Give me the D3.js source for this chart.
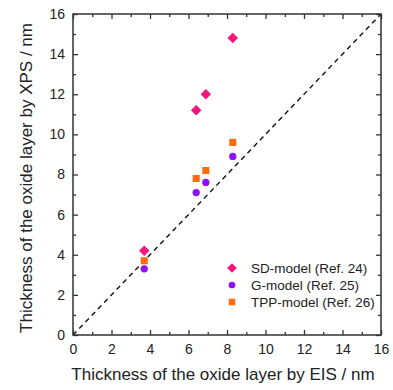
<!DOCTYPE html>
<html><head><meta charset="utf-8">
<script src="https://cdn.jsdelivr.net/npm/d3@7"></script>
<style>body{margin:0;background:#fff}svg{display:block}text{font-family:"Liberation Sans",Arial,sans-serif;fill:#222}</style>
</head><body>
<script>
const eis = [3.7, 6.4, 6.9, 8.3];
const sdModel = [4.2, 11.2, 12.0, 14.8];
const gModel = [3.3, 7.1, 7.6, 8.9];
const tppModel = [3.7, 7.8, 8.2, 9.6];
const seriesNames = ["SD-model (Ref. 24)", "G-model (Ref. 25)", "TPP-model (Ref. 26)"];
const tickValues = [0, 2, 4, 6, 8, 10, 12, 14, 16];

const W = 393, H = 390;
const m = {l: 73, r: 12, t: 14, b: 55};
const svg = d3.select("body").append("svg").attr("width", W).attr("height", H);
const x = d3.scaleLinear().domain([0, 16]).range([m.l, W - m.r]);
const y = d3.scaleLinear().domain([0, 16]).range([H - m.b, m.t]);

const series = [
  {name: seriesNames[0], vals: sdModel, color: "#f5157e", sym: d3.symbolDiamond2, size: 70},
  {name: seriesNames[1], vals: gModel, color: "#8f10ff", sym: d3.symbolCircle, size: 42},
  {name: seriesNames[2], vals: tppModel, color: "#ff6a0d", sym: d3.symbolSquare, size: 50}
];

// dashed identity line
svg.append("line").attr("x1", x(0)).attr("y1", y(0)).attr("x2", x(16)).attr("y2", y(16))
  .attr("stroke", "#111").attr("stroke-width", 1.4).attr("stroke-dasharray", "5,4");

const minor = d3.range(0, 17, 1).filter(v => v % 2);
const tickCol = "#333";
svg.append("g").attr("transform", `translate(0,${y(0)})`)
  .call(d3.axisBottom(x).tickValues(tickValues).tickSize(-5).tickPadding(9));
svg.append("g").attr("transform", `translate(0,${y(0)})`)
  .call(d3.axisBottom(x).tickValues(minor).tickSize(-3).tickFormat(""));
svg.append("g").attr("transform", `translate(0,${y(16)})`)
  .call(d3.axisTop(x).tickValues(tickValues).tickSize(-5).tickFormat(""));
svg.append("g").attr("transform", `translate(0,${y(16)})`)
  .call(d3.axisTop(x).tickValues(minor).tickSize(-3).tickFormat(""));
svg.append("g").attr("transform", `translate(${x(0)},0)`)
  .call(d3.axisLeft(y).tickValues(tickValues).tickSize(-5).tickPadding(8));
svg.append("g").attr("transform", `translate(${x(0)},0)`)
  .call(d3.axisLeft(y).tickValues(minor).tickSize(-3).tickFormat(""));
svg.append("g").attr("transform", `translate(${x(16)},0)`)
  .call(d3.axisRight(y).tickValues(tickValues).tickSize(-5).tickFormat(""));
svg.append("g").attr("transform", `translate(${x(16)},0)`)
  .call(d3.axisRight(y).tickValues(minor).tickSize(-3).tickFormat(""));
svg.selectAll(".domain").remove();
svg.selectAll(".tick line").attr("stroke", tickCol).attr("stroke-width", 1.3);
svg.selectAll(".tick text").attr("font-size", 14).attr("fill", "#222")
  .attr("font-family", '"Liberation Sans",Arial,sans-serif');

// frame
svg.append("rect").attr("x", x(0)).attr("y", y(16)).attr("width", x(16) - x(0)).attr("height", y(0) - y(16))
  .attr("fill", "none").attr("stroke", tickCol).attr("stroke-width", 1.5);

// points
series.forEach(s => {
  svg.append("g").selectAll("path").data(s.vals).join("path")
    .attr("transform", (d, i) => `translate(${x(eis[i])},${y(d)})`)
    .attr("d", d3.symbol().type(s.sym).size(s.size)).attr("fill", s.color);
});

// legend
series.forEach((s, i) => {
  const yy = 268 + i * 17;
  svg.append("path").attr("transform", `translate(232,${yy})`)
    .attr("d", d3.symbol().type(s.sym).size(s.size * 0.85)).attr("fill", s.color);
  svg.append("text").attr("x", 251).attr("y", yy + 5).attr("font-size", 13.5).text(s.name);
});

// axis titles
svg.append("text").attr("x", 223).attr("y", 380).attr("text-anchor", "middle")
  .attr("font-size", 17).text("Thickness of the oxide layer by EIS / nm");
svg.append("text").attr("transform", `translate(32,178) rotate(-90)`)
  .attr("text-anchor", "middle").attr("font-size", 17).text("Thickness of the oxide layer by XPS / nm");
</script>
</body></html>
